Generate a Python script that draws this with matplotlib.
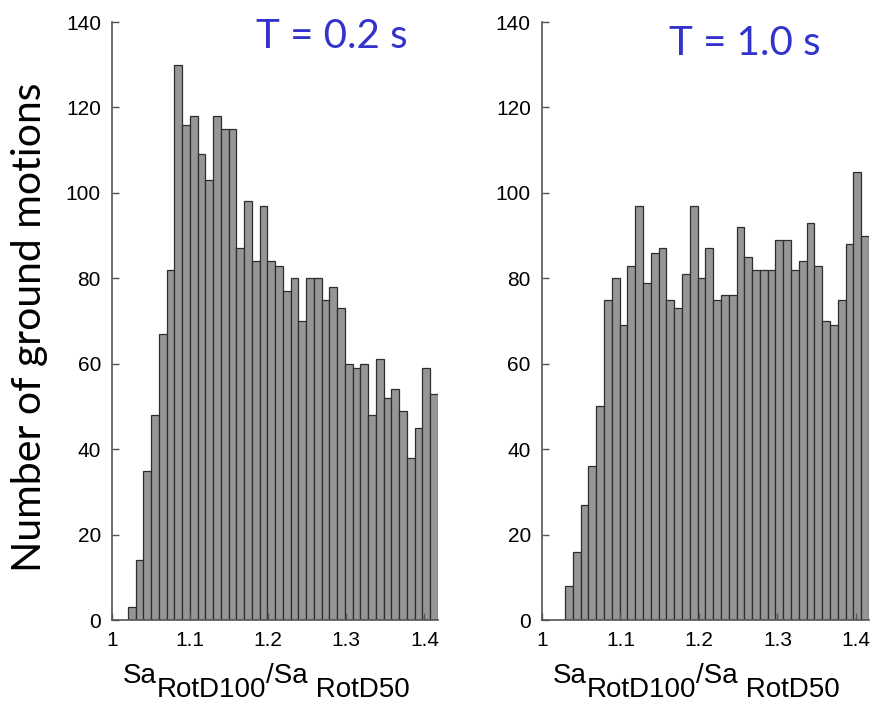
import numpy as np
import matplotlib
matplotlib.use("Agg")
import matplotlib.pyplot as plt

# bin layout (width ~0.0099)
bin_width = 0.00993
left_start = 1.0202
right_start = 1.0294

# counts per bin, T = 0.2 s
counts_02 = [3, 14, 35, 48, 67, 82, 130, 116, 118, 109,
             103, 118, 115, 115, 87, 98, 84, 97, 84, 83,
             77, 80, 70, 80, 80, 75, 78, 73, 60, 59,
             60, 48, 61, 52, 54, 49, 38, 45, 59, 53]

# counts per bin, T = 1.0 s
counts_10 = [8, 16, 27, 36, 50, 75, 80, 69, 83, 97,
             79, 86, 87, 75, 73, 81, 97, 80, 87, 75,
             76, 76, 92, 85, 82, 82, 82, 89, 89, 82,
             84, 93, 83, 70, 69, 75, 88, 105, 90]

titles = ["T = 0.2 s", "T = 1.0 s"]
yticks = [0, 20, 40, 60, 80, 100, 120, 140]
xticks = [1.0, 1.1, 1.2, 1.3, 1.4]
xticklabels = ["1", "1.1", "1.2", "1.3", "1.4"]

W, H = 877, 709
plt.rcParams['font.family'] = ['Liberation Sans', 'DejaVu Sans']

fig = plt.figure(figsize=(W / 100, H / 100), dpi=100)
ax1 = fig.add_axes([0.1277, 0.1255, 0.3717, 0.8434])
ax2 = fig.add_axes([0.618, 0.1255, 0.3729, 0.8434])


def xlabel_pieces(x0, y0, size=20, drop=10):
    # Sa_RotD100 / Sa_RotD50 with full-size subscripts, chained piece by piece
    pieces = [('RotD100', -drop), ('/Sa', drop), (' RotD50', -drop)]
    prev = fig.text(x0 / W, 1 - y0 / H, 'Sa', fontsize=size,
                    ha='left', va='baseline')
    for txt, dy in pieces:
        prev = fig.add_artist(plt.Annotation(
            txt, xy=(1, 0), xycoords=prev, xytext=(0, dy),
            textcoords='offset points', fontsize=size, ha='left', va='bottom'))


panels = [(ax1, counts_02, left_start, titles[0], 332, 48, 123),
          (ax2, counts_10, right_start, titles[1], 745, 55, 553)]

for ax, counts, start, title, tx, ty, lx in panels:
    lefts = start + bin_width * np.arange(len(counts))
    ax.bar(lefts, counts, width=bin_width, align='edge',
           color='#969696', edgecolor='#2e2e2e', linewidth=0.9)
    ax.set_xlim(1.0, start + bin_width * len(counts))
    ax.set_ylim(0, 140)
    ax.set_yticks(yticks)
    ax.set_xticks(xticks)
    ax.set_xticklabels(xticklabels)
    ax.tick_params(direction='in', length=5, labelsize=15, pad=8,
                   color='#555555', width=1)
    for s in ['top', 'right']:
        ax.spines[s].set_visible(False)
    for s in ['left', 'bottom']:
        ax.spines[s].set_color('#555555')
        ax.spines[s].set_linewidth(1.2)
    xlabel_pieces(lx, 683)
    fig.text(tx / W, 1 - ty / H, title, color='#3333cc', fontsize=29,
             family=['Lato', 'DejaVu Sans'], ha='center', va='baseline')

fig.text(30 / W, 1 - 327 / H, 'Number of ground motions',
         rotation=90, fontsize=29.5, family=['Lato', 'DejaVu Sans'],
         ha='center', va='center')

fig.savefig('out.png', dpi=100)
